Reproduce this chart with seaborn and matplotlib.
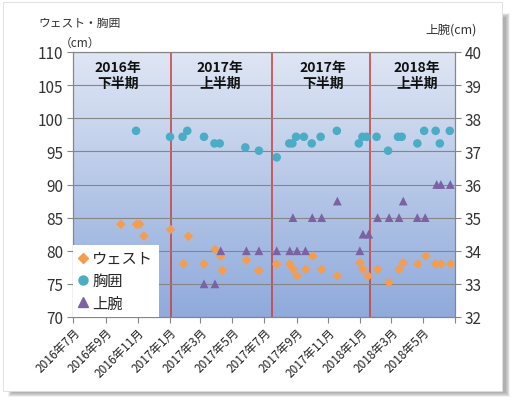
import numpy as np
import pandas as pd
import matplotlib
matplotlib.use('Agg')
import matplotlib.pyplot as plt
from matplotlib.colors import LinearSegmentedColormap
from matplotlib.patches import Rectangle
from matplotlib.lines import Line2D
import seaborn as sns

# ---- data ----
waist_dates = ['2016-09-30', '2016-10-30', '2016-11-05', '2016-11-13', '2017-01-03', '2017-01-28',
               '2017-02-06', '2017-03-08', '2017-03-29', '2017-04-09', '2017-04-12', '2017-05-28',
               '2017-06-21', '2017-07-25', '2017-08-19', '2017-08-25', '2017-09-02', '2017-09-19',
               '2017-10-02', '2017-10-19', '2017-11-18', '2017-12-31', '2018-01-06', '2018-01-16',
               '2018-02-03', '2018-02-25', '2018-03-16', '2018-03-24', '2018-04-21', '2018-05-06',
               '2018-05-25', '2018-06-04', '2018-06-23']
waist = [84, 84, 84, 82.2, 83.2, 78, 82.2, 78, 80.2, 79.2, 77, 78.6,
         77, 78, 78, 77.2, 76.2, 77.2, 79.2, 77.2, 76.2, 78.2, 77.2, 76.2,
         77.2, 75.2, 77.2, 78.2, 78, 79.2, 78, 78, 78]

chest_dates = ['2016-10-29', '2017-01-02', '2017-01-26', '2017-02-04', '2017-03-08', '2017-03-28',
               '2017-04-07', '2017-05-26', '2017-06-21', '2017-07-25', '2017-08-18', '2017-08-24',
               '2017-08-31', '2017-09-15', '2017-09-30', '2017-10-17', '2017-11-17', '2017-12-29',
               '2018-01-05', '2018-01-13', '2018-02-01', '2018-02-23', '2018-03-14', '2018-03-21',
               '2018-04-20', '2018-05-03', '2018-05-25', '2018-06-02', '2018-06-21']
chest = [98.1, 97.2, 97.2, 98.1, 97.2, 96.2, 96.2, 95.6, 95.1, 94.1, 96.2, 96.2,
         97.2, 97.2, 96.2, 97.2, 98.1, 96.2, 97.2, 97.2, 97.2, 95.1, 97.2, 97.2,
         96.2, 98.1, 98.1, 96.2, 98.1]

arm_dates = ['2017-03-08', '2017-03-29', '2017-04-09', '2017-05-28', '2017-06-21', '2017-07-25',
             '2017-08-19', '2017-08-25', '2017-09-02', '2017-09-18', '2017-10-01', '2017-10-19',
             '2017-11-18', '2017-12-31', '2018-01-06', '2018-01-17', '2018-02-03', '2018-02-25',
             '2018-03-16', '2018-03-24', '2018-04-20', '2018-05-05', '2018-05-27', '2018-06-04',
             '2018-06-22']
arm = [33, 33, 34, 34, 34, 34, 34, 35, 34, 34, 35, 35,
       35.5, 34, 34.5, 34.5, 35, 35, 35, 35.5, 35, 35, 36, 36, 36]

period_lines = ['2017-01-03', '2017-07-16', '2018-01-20']
period_labels = ['2016年\n下半期', '2017年\n上半期', '2017年\n下半期', '2018年\n上半期']
period_pos = [0.117, 0.384, 0.654, 0.900]

tick_dates = pd.date_range('2016-07-01', '2018-07-01', freq='2MS')
tick_labels = ['2016年7月', '2016年9月', '2016年11月', '2017年1月', '2017年3月', '2017年5月',
               '2017年7月', '2017年9月', '2017年11月', '2018年1月', '2018年3月', '2018年5月', '']

# ---- style ----
sns.set_style('white')
plt.rcParams['font.family'] = ['Noto Sans CJK JP', 'DejaVu Sans']
grid_c = '#868686'

fig = plt.figure(figsize=(5.18, 4.06), dpi=100)
W, H = 518, 406

# カード + 影
for i in range(8):
    fig.add_artist(Rectangle(((8 + i * 0.6) / W, 1 - (398 - i * 0.6) / H),
                             (502 - 4 - i * 1.2 + 4) / W, (392 - 8 - i * 1.2) / H,
                             transform=fig.transFigure, facecolor='#555555',
                             alpha=0.07, edgecolor='none', zorder=-3))
fig.add_artist(Rectangle((3 / W, 1 - 392 / H), 499 / W, 389 / H, transform=fig.transFigure,
                         facecolor='white', edgecolor='#dddddd', lw=0.6, zorder=-2))

ax = fig.add_axes([73.3 / W, 1 - 318 / H, (455 - 73.3) / W, 265 / H])
ax2 = ax.twinx()

# グラデーション背景
cmap = LinearSegmentedColormap.from_list('bg', ['#dfe6f4', '#8faadb'])
ax.imshow(np.linspace(0, 1, 256).reshape(-1, 1), cmap=cmap, extent=[0, 1, 0, 1],
          transform=ax.transAxes, aspect='auto', zorder=0)

df_w = pd.DataFrame({'date': pd.to_datetime(waist_dates), 'val': waist})
df_c = pd.DataFrame({'date': pd.to_datetime(chest_dates), 'val': chest})
df_a = pd.DataFrame({'date': pd.to_datetime(arm_dates), 'val': arm})

c_w, c_c, c_a = '#f59d4e', '#4aacc5', '#7b62a3'
sns.scatterplot(data=df_w, x='date', y='val', marker='D', s=24, color=c_w,
                edgecolor='none', ax=ax, zorder=3, legend=False)
sns.scatterplot(data=df_c, x='date', y='val', marker='o', s=38, color=c_c,
                edgecolor='none', ax=ax, zorder=3, legend=False)
sns.scatterplot(data=df_a, x='date', y='val', marker='^', s=40, color=c_a,
                edgecolor='none', ax=ax2, zorder=3, legend=False)

for d in period_lines:
    ax.axvline(pd.Timestamp(d), color='#cc3a3a', lw=1.1, zorder=2)

xmin, xmax = pd.Timestamp('2016-07-01'), pd.Timestamp('2018-07-01')
ax.set_xlim(xmin, xmax)
ax.set_ylim(70, 110)
ax2.set_ylim(32, 40)
ax.set_yticks(np.arange(70, 111, 5))
ax2.set_yticks(np.arange(32, 41, 1))
ax.set_xticks(tick_dates)
ax.set_xticklabels(tick_labels, rotation=45, ha='right', rotation_mode='anchor', fontsize=8.5)
ax.set_xlabel('')
ax.set_ylabel('')
ax2.set_ylabel('')

ax.grid(axis='y', color=grid_c, lw=0.8, zorder=1)
ax.set_axisbelow(False)
for a in (ax, ax2):
    for s in a.spines.values():
        s.set_color(grid_c)
        s.set_linewidth(0.8)
ax.tick_params(axis='y', direction='out', length=4, color=grid_c, labelsize=11, pad=3,
               labelcolor='#333333', left=True)
ax.tick_params(axis='x', direction='out', length=4, color=grid_c, labelcolor='#222222',
               bottom=True, pad=2)
ax2.tick_params(axis='y', direction='out', length=4, color=grid_c, labelsize=11, pad=3,
                labelcolor='#333333', right=True)

for lbl, px in zip(period_labels, period_pos):
    ax.text(px, 0.913, lbl, transform=ax.transAxes, ha='center', va='center',
            fontsize=10, fontweight='bold', linespacing=1.15, zorder=4, color='#111111')

fig.text(80 / W, 1 - 24 / H, 'ウェスト・胸囲', ha='center', va='center', fontsize=8.5, color='#333333')
fig.text(80 / W, 1 - 43 / H, '（cm）', ha='center', va='center', fontsize=8.5, color='#333333')
fig.text(451 / W, 1 - 30 / H, '上腕(cm)', ha='center', va='center', fontsize=9, color='#333333')

handles = [Line2D([], [], marker='D', ls='none', color=c_w, markersize=5, label='ウェスト'),
           Line2D([], [], marker='o', ls='none', color=c_c, markersize=6.5, label='胸囲'),
           Line2D([], [], marker='^', ls='none', color=c_a, markersize=6.5, label='上腕')]
leg = ax2.legend(handles=handles, loc='lower left', bbox_to_anchor=(0, 0), borderaxespad=0,
                 frameon=True, fancybox=False, fontsize=11, handlelength=0.6,
                 handletextpad=0.3, labelspacing=0.35, borderpad=0.35)
leg.get_frame().set_facecolor('white')
leg.get_frame().set_edgecolor('none')
leg.get_frame().set_alpha(1)
leg.set_zorder(10)

fig.savefig('out.png', dpi=100, facecolor='white')
